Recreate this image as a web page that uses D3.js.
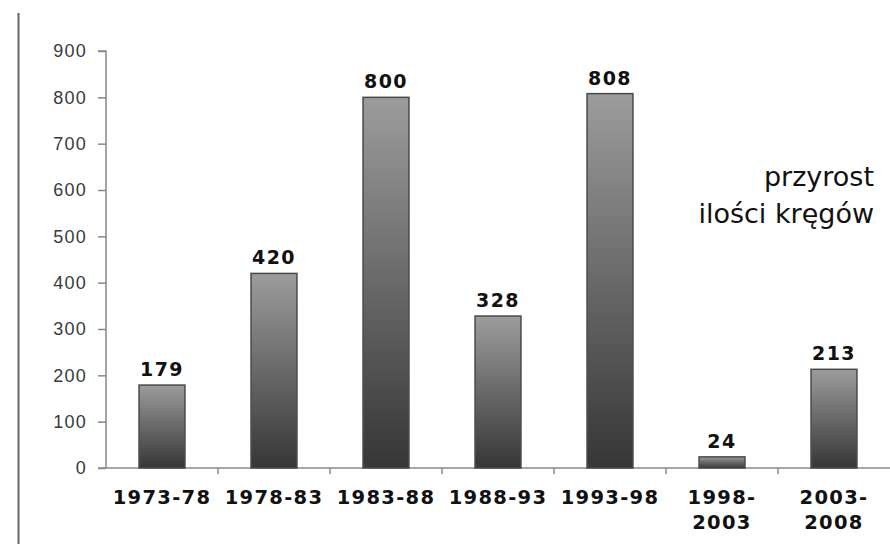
<!DOCTYPE html>
<html>
<head>
<meta charset="utf-8">
<script src="https://cdn.jsdelivr.net/npm/d3@7"></script>
<style>
  html, body { margin: 0; padding: 0; background: #fff; }
  svg { display: block; }
</style>
</head>
<body>
<svg id="chart" width="890" height="544"></svg>
<script>
// Five-year periods and the growth in number of circles for each
const periods = [["1973-78"], ["1978-83"], ["1983-88"], ["1988-93"], ["1993-98"], ["1998-", "2003"], ["2003-", "2008"]];
const increases = [179, 420, 800, 328, 808, 24, 213];
const yTicks = [0, 100, 200, 300, 400, 500, 600, 700, 800, 900];
const titleLines = ["przyrost", "ilości kręgów"];

const svg = d3.select("#chart");
const W = 890, H = 544;
const plotLeft = 106, plotRight = 890, plotTop = 51, plotBottom = 468;

const keys = periods.map(p => p.join(" "));
const x = d3.scaleBand().domain(keys).range([plotLeft, plotRight]).paddingInner(0.59).paddingOuter(0.295);
const xStep = d3.scaleBand().domain(keys).range([plotLeft, plotRight]);
const y = d3.scaleLinear().domain([0, 900]).range([plotBottom, plotTop]);

// Vertical rule on the left edge
svg.append("line")
  .attr("x1", 18.5).attr("x2", 18.5).attr("y1", 13).attr("y2", H)
  .attr("stroke", "#666").attr("stroke-width", 2);

// Bar gradient: light on top, dark at the base
const defs = svg.append("defs");
const grad = defs.append("linearGradient").attr("id", "barGrad")
  .attr("x1", 0).attr("y1", 0).attr("x2", 0).attr("y2", 1);
grad.append("stop").attr("offset", "0%").attr("stop-color", "#9c9c9c");
grad.append("stop").attr("offset", "100%").attr("stop-color", "#363636");

// Y axis
const yAxis = svg.append("g").attr("transform", `translate(${plotLeft},0)`)
  .call(d3.axisLeft(y).tickValues(yTicks).tickSize(8).tickPadding(11));
yAxis.attr("font-size", null).attr("font-family", null);
yAxis.select(".domain").attr("stroke", "#888").attr("stroke-width", 1.5)
  .attr("d", `M-8,${plotTop}H0V${plotBottom}`);
yAxis.selectAll(".tick line").attr("stroke", "#888").attr("stroke-width", 1.5);
yAxis.selectAll(".tick text")
  .style("font-family", "'Liberation Sans', Arial, sans-serif")
  .style("font-size", "18px").style("letter-spacing", "1.2px")
  .attr("fill", "#3a3a3a");

// X axis line with ticks between periods
svg.append("line")
  .attr("x1", plotLeft - 8).attr("x2", plotRight).attr("y1", plotBottom).attr("y2", plotBottom)
  .attr("stroke", "#888").attr("stroke-width", 1.5);
svg.append("g").selectAll("line")
  .data(keys.slice(1))
  .join("line")
  .attr("x1", d => xStep(d)).attr("x2", d => xStep(d))
  .attr("y1", plotBottom).attr("y2", plotBottom + 6)
  .attr("stroke", "#888").attr("stroke-width", 1.5);

// Bars
svg.append("g").selectAll("rect")
  .data(increases)
  .join("rect")
  .attr("x", (d, i) => x(keys[i]))
  .attr("y", d => y(d))
  .attr("width", x.bandwidth())
  .attr("height", d => y(0) - y(d))
  .attr("fill", "url(#barGrad)")
  .attr("stroke", "#4a4a4a").attr("stroke-width", 1.5);

// Value labels
svg.append("g").selectAll("text")
  .data(increases)
  .join("text")
  .attr("x", (d, i) => x(keys[i]) + x.bandwidth() / 2)
  .attr("y", d => y(d) - 9)
  .attr("text-anchor", "middle")
  .style("font-family", "'DejaVu Sans', Verdana, sans-serif")
  .style("font-weight", "bold").style("font-size", "19px").style("letter-spacing", "1.5px")
  .attr("fill", "#111")
  .text(d => d);

// Period labels
const xl = svg.append("g").selectAll("text")
  .data(periods)
  .join("text")
  .attr("x", (d, i) => xStep(keys[i]) + xStep.bandwidth() / 2)
  .attr("y", 504)
  .attr("text-anchor", "middle")
  .style("font-family", "'DejaVu Sans', Verdana, sans-serif")
  .style("font-weight", "bold").style("font-size", "19.5px").style("letter-spacing", "1.3px")
  .attr("fill", "#111");
xl.selectAll("tspan")
  .data(d => d)
  .join("tspan")
  .attr("x", function() { return d3.select(this.parentNode).attr("x"); })
  .attr("dy", (d, i) => i === 0 ? 0 : 25)
  .text(d => d);

// Caption on the right
svg.append("g").selectAll("text")
  .data(titleLines)
  .join("text")
  .attr("x", 874)
  .attr("y", (d, i) => 186 + i * 37)
  .attr("text-anchor", "end")
  .style("font-family", "'DejaVu Sans', Tahoma, sans-serif")
  .style("font-size", "27px")
  .attr("fill", "#111")
  .text(d => d);
</script>
</body>
</html>
